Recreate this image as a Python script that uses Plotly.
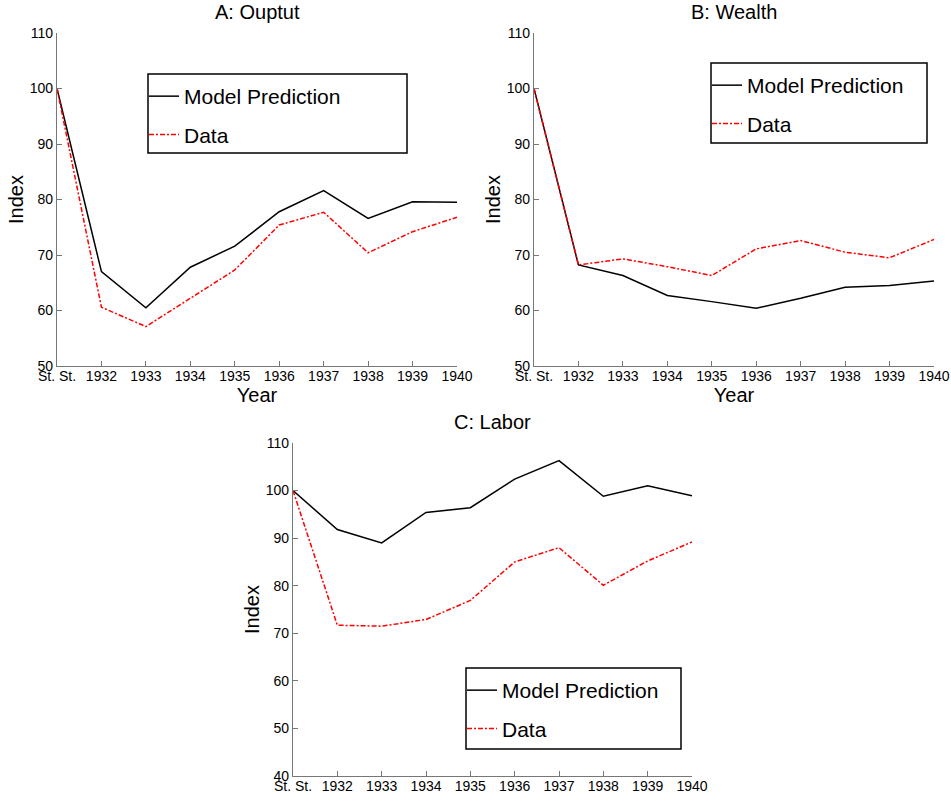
import plotly.graph_objects as go

W, H = 951, 803

categories = ["St. St.", "1932", "1933", "1934", "1935", "1936", "1937", "1938", "1939", "1940"]

output_model = [100, 67.0, 60.5, 67.8, 71.6, 77.8, 81.6, 76.6, 79.6, 79.5]
output_data = [100, 60.6, 57.1, 62.2, 67.3, 75.4, 77.7, 70.4, 74.2, 76.8]

wealth_model = [100, 68.2, 66.3, 62.7, 61.6, 60.4, 62.2, 64.2, 64.5, 65.3]
wealth_data = [100, 68.2, 69.3, 67.9, 66.3, 71.1, 72.6, 70.5, 69.5, 72.8]

labor_model = [100, 91.8, 89.0, 95.4, 96.4, 102.4, 106.3, 98.8, 101.0, 98.9]
labor_data = [100, 71.7, 71.5, 72.9, 76.9, 85.0, 88.0, 80.1, 85.2, 89.2]

panel_titles = ["A: Ouptut", "B: Wealth", "C: Labor"]
series_names = ["Model Prediction", "Data"]

FONT = "Liberation Sans, Arial, sans-serif"

# pixel geometry of the three axes boxes (left, right, top, bottom)
boxes = [(57, 457, 33, 366), (534, 934, 33, 366), (293, 692, 443, 776)]
legend_boxes = [(148, 407, 74, 153), (711, 927, 63, 143), (466, 681, 668, 749)]
yranges = [(50, 110), (50, 110), (40, 110)]

def px(x):
    return x / W

def py(y):
    return 1 - y / H

x_idx = list(range(len(categories)))
panels = [(output_model, output_data), (wealth_model, wealth_data), (labor_model, labor_data)]

fig = go.Figure()
for i, (model, data) in enumerate(panels):
    sfx = "" if i == 0 else str(i + 1)
    leg = "legend" if i == 0 else f"legend{i + 1}"
    fig.add_trace(go.Scatter(
        x=x_idx, y=model, mode="lines", name=series_names[0],
        line=dict(color="black", width=1.5), xaxis="x" + sfx, yaxis="y" + sfx,
        legend=leg, legendgroup=f"m{i}"))
    fig.add_trace(go.Scatter(
        x=x_idx, y=data, mode="lines", name=series_names[1],
        line=dict(color="red", width=1.5, dash="5px,2px,2px,2px"), xaxis="x" + sfx, yaxis="y" + sfx,
        legend=leg, legendgroup=f"d{i}"))

layout = dict(
    width=W, height=H, margin=dict(l=0, r=0, t=0, b=0, autoexpand=False),
    paper_bgcolor="white", plot_bgcolor="white",
    font=dict(family=FONT, color="black", size=14),
    showlegend=True,
)

shapes = []
annotations = []
for i in range(3):
    l, r, t, b = boxes[i]
    sfx = "" if i == 0 else str(i + 1)
    xa = dict(
        domain=[px(l), px(r)], range=[0, 9], anchor="y" + sfx, automargin=True,
        tickmode="array", tickvals=x_idx, ticktext=categories,
        ticks="inside", ticklen=5, tickcolor="#777777", tickwidth=1,
        showline=True, linecolor="#777777", linewidth=1.2, showgrid=False, zeroline=False,
        tickfont=dict(size=14, color="black", family=FONT), ticklabelstandoff=-3,
    )
    ya = dict(
        domain=[py(b), py(t)], range=list(yranges[i]), anchor="x" + sfx, automargin=True,
        dtick=10, tick0=0,
        ticks="inside", ticklen=5, tickcolor="#777777", tickwidth=1,
        showline=True, linecolor="#777777", linewidth=1.2, showgrid=False, zeroline=False,
        tickfont=dict(size=14, color="black", family=FONT),
        title=dict(text="Index", font=dict(size=20, family=FONT), standoff=0),
    )
    if i < 2:
        xa["title"] = dict(text="Year", font=dict(size=20, family=FONT), standoff=0)
    layout["xaxis" + sfx] = xa
    layout["yaxis" + sfx] = ya

    lb = legend_boxes[i]
    leg = "legend" if i == 0 else f"legend{i + 1}"
    layout[leg] = dict(
        x=px(lb[0] - 4), y=py(lb[2] + 2), xanchor="left", yanchor="top",
        xref="paper", yref="paper",
        bgcolor="rgba(0,0,0,0)", borderwidth=0,
        font=dict(size=21, family=FONT, color="black"),
        traceorder="grouped", tracegroupgap=8,
    )
    shapes.append(dict(type="rect", xref="paper", yref="paper",
                       x0=px(lb[0]), x1=px(lb[1]), y0=py(lb[3]), y1=py(lb[2]),
                       line=dict(color="black", width=1.5), fillcolor="rgba(0,0,0,0)"))
    annotations.append(dict(text=panel_titles[i], xref="paper", yref="paper",
                            x=px((l + r) / 2), y=py(t - 21), xanchor="center", yanchor="middle",
                            showarrow=False, font=dict(size=20, family=FONT, color="black")))

layout["shapes"] = shapes
layout["annotations"] = annotations
fig.update_layout(**layout)
fig.write_html("out.html", config={"displayModeBar": False},
               post_script="document.body.style.margin='0';")
